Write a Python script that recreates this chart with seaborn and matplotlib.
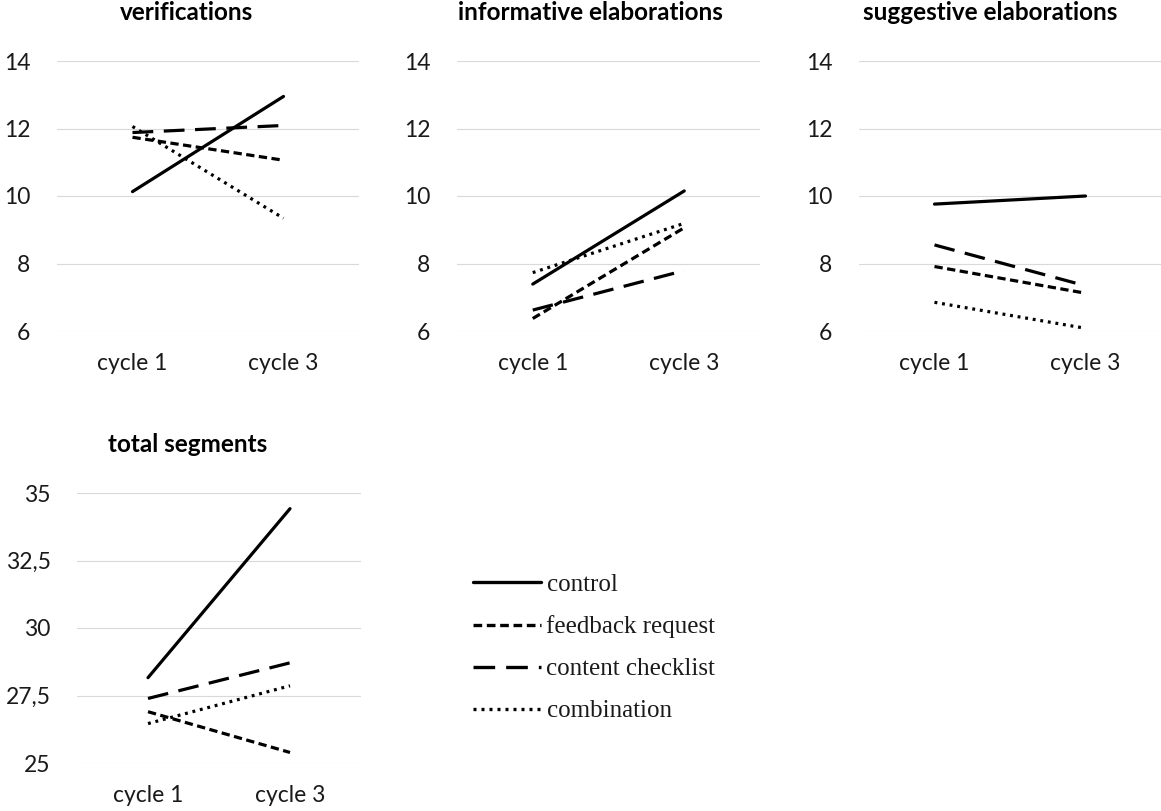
import matplotlib
matplotlib.use("Agg")
import matplotlib.pyplot as plt
import seaborn as sns
import pandas as pd
from matplotlib.lines import Line2D

# ---------------- data ----------------
cycles = ["cycle 1", "cycle 3"]
groups = ["control", "feedback request", "content checklist", "combination"]

verifications = {
    "control": [10.13, 12.95],
    "feedback request": [11.74, 11.06],
    "content checklist": [11.88, 12.09],
    "combination": [12.06, 9.34],
}
informative = {
    "control": [7.39, 10.15],
    "feedback request": [6.37, 9.06],
    "content checklist": [6.62, 7.79],
    "combination": [7.73, 9.19],
}
suggestive = {
    "control": [9.76, 10.0],
    "feedback request": [7.91, 7.12],
    "content checklist": [8.55, 7.34],
    "combination": [6.85, 6.08],
}
total = {
    "control": [28.16, 34.42],
    "feedback request": [26.90, 25.39],
    "content checklist": [27.39, 28.71],
    "combination": [26.46, 27.86],
}

titles = ["verifications", "informative elaborations", "suggestive elaborations", "total segments"]
yticks_small = [6, 8, 10, 12, 14]
ytick_labels_small = ["6", "8", "10", "12", "14"]
yticks_total = [25, 27.5, 30, 32.5, 35]
ytick_labels_total = ["25", "27,5", "30", "32,5", "35"]


def to_long(d):
    rows = []
    for g in groups:
        for c, v in zip(cycles, d[g]):
            rows.append({"cycle": c, "group": g, "value": v})
    return pd.DataFrame(rows)


# ---------------- style ----------------
sns.set_style("white")
plt.rcParams["font.family"] = ["Lato", "DejaVu Sans"]

dashes = {
    "control": "",
    "feedback request": (2.6, 1.4),
    "content checklist": (6.5, 3.3),
    "combination": (0.9, 1.5),
}

W, H = 1161, 811
fig = plt.figure(figsize=(W / 100, H / 100), dpi=100)


def px_axes(l, r, t, b):
    return fig.add_axes([l / W, 1 - b / H, (r - l) / W, (b - t) / H])


panels = [
    (verifications, (57, 359, 61, 331), yticks_small, ytick_labels_small, (187, 12)),
    (informative, (457, 760, 61, 331), yticks_small, ytick_labels_small, (590, 12)),
    (suggestive, (859, 1161, 61, 331), yticks_small, ytick_labels_small, (990, 12)),
    (total, (77, 361, 493, 763), yticks_total, ytick_labels_total, (188, 445)),
]

text_color = "#1a1a1a"
for (data, box, yt, ytl, tpos), title in zip(panels, titles):
    ax = px_axes(*box)
    df = to_long(data)
    sns.lineplot(data=df, x="cycle", y="value", style="group", style_order=groups,
                 dashes=dashes, color="black", linewidth=2.3, errorbar=None,
                 legend=False, ax=ax, sort=False)
    for ln in ax.get_lines():
        ln.set_dash_capstyle("butt")
    ax.set_xlim(-0.5, 1.5)
    ax.set_ylim(yt[0], yt[-1])
    ax.set_yticks(yt)
    ax.set_yticklabels(ytl)
    ax.set_xlabel("")
    ax.set_ylabel("")
    for s in ax.spines.values():
        s.set_visible(False)
    ax.yaxis.grid(True, color="#d9d9d9", linewidth=0.8)
    ax.set_axisbelow(True)
    ax.tick_params(axis="y", length=0, pad=19, labelsize=16.5, labelcolor=text_color)
    ax.tick_params(axis="x", length=0, pad=16, labelsize=16.5, labelcolor=text_color)
    for lab in ax.get_yticklabels():
        lab.set_clip_on(False)
    fig.text(tpos[0] / W, 1 - tpos[1] / H, title, ha="center", va="center",
             fontsize=17.5, fontweight="bold", color="black")

# legend
handles = [Line2D([0], [0], color="black", linewidth=2.4,
                  linestyle=((0, dashes[g]) if dashes[g] else "-"))
           for g in groups]
leg = fig.legend(handles, groups, loc="upper left",
                 bbox_to_anchor=(451 / W, 1 - 551 / H), frameon=False,
                 prop={"family": "Liberation Serif", "size": 18},
                 handlelength=2.7, handletextpad=0.22, labelspacing=0.78)
for t in leg.get_texts():
    t.set_color(text_color)

fig.savefig("out.png", dpi=100)
